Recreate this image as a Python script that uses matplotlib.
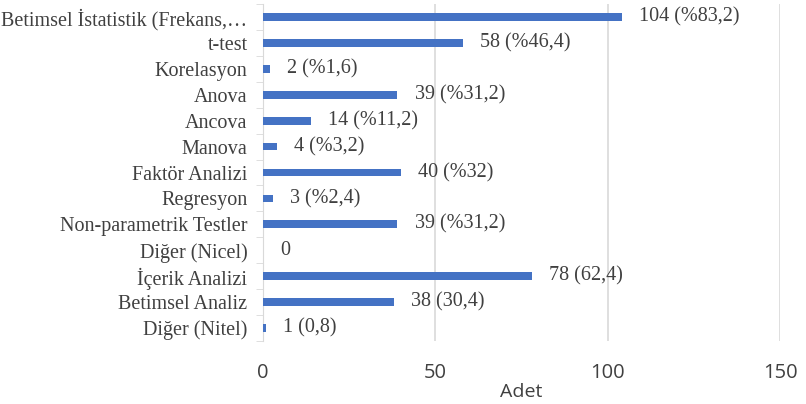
import numpy as np
import matplotlib.pyplot as plt

# data (top to bottom as in the chart)
categories = ['Betimsel İstatistik (Frekans,…', 't-test', 'Korelasyon', 'Anova', 'Ancova',
              'Manova', 'Faktör Analizi', 'Regresyon', 'Non-parametrik Testler',
              'Diğer (Nicel)', 'İçerik Analizi', 'Betimsel Analiz', 'Diğer (Nitel)']
counts = [104, 58, 2, 39, 14, 4, 40, 3, 39, 0, 78, 38, 1]
value_labels = ['104 (%83,2)', '58 (%46,4)', '2 (%1,6)', '39 (%31,2)', '14 (%11,2)',
                '4 (%3,2)', '40 (%32)', '3 (%2,4)', '39 (%31,2)', '0',
                '78 (62,4)', '38 (30,4)', '1 (0,8)']
xticks = [0, 50, 100, 150]

serif = 'Liberation Serif'
sans = 'Open Sans'
bar_color = '#4472C4'
grid_color = '#d9d9d9'
text_color = '#404040'

fig = plt.figure(figsize=(8.06, 4.04), dpi=100)
ax = fig.add_axes([0.326, 0.156, 0.642, 0.834])

y = np.arange(len(categories))
ax.barh(y, counts, height=0.3, color=bar_color, zorder=3)
ax.set_ylim(len(categories) - 0.5, -0.5)
ax.set_xlim(0, 150)

for yi, c, lab in zip(y, counts, value_labels):
    ax.text(c + 5, yi, lab, va='center', ha='left', fontsize=14.5,
            family=serif, color=text_color, zorder=4)

ax.set_yticks(y)
ax.set_yticklabels(categories, family=serif, fontsize=14.5, color=text_color)
ax.set_yticks(np.arange(-0.5, len(categories), 1), minor=True)
ax.tick_params(axis='y', which='major', length=0, pad=11)
ax.tick_params(axis='y', which='minor', length=5, color=grid_color)

ax.set_xticks(xticks)
ax.set_xticklabels([str(t) for t in xticks], family=sans, fontsize=14.5, color=text_color)
ax.tick_params(axis='x', length=0, pad=16)
ax.set_xlabel('Adet', family=sans, fontsize=14, color=text_color, labelpad=0)

ax.grid(axis='x', color=grid_color, linewidth=1.2, zorder=0)
for s in ['top', 'right', 'bottom']:
    ax.spines[s].set_visible(False)
ax.spines['left'].set_color(grid_color)

fig.savefig('out.png', dpi=100)
